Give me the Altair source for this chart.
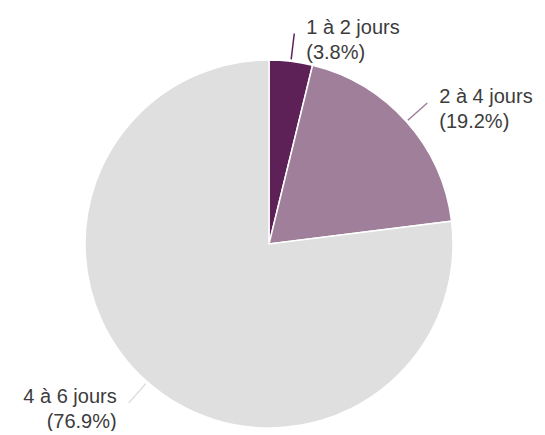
import math
import altair as alt
import pandas as pd

labels = ["1 à 2 jours", "2 à 4 jours", "4 à 6 jours"]
percents = [3.8, 19.2, 76.9]
colors = ["#5e2157", "#a07f9b", "#dfdfdf"]

df = pd.DataFrame({"label": labels, "pct": percents, "order": list(range(len(labels)))})
df["text"] = [f"{l}\n({p}%)" for l, p in zip(labels, percents)]

CX, CY = 261, 236
R_PIE = 184
R_IN, R_OUT = 186, 212

base = alt.Chart(df).transform_joinaggregate(
    total="sum(pct)"
).transform_window(
    cum="sum(pct)", sort=[alt.SortField("order")], frame=[None, 0]
).transform_calculate(
    t1="datum.cum / datum.total",
    t0="(datum.cum - datum.pct) / datum.total",
    mid="(datum.cum - datum.pct / 2) / datum.total",
)

theta_scale = alt.Scale(domain=[0, 1], range=[0, 2 * math.pi])
color_scale = alt.Scale(domain=labels, range=colors)
cx = alt.value(CX)
cy = alt.value(CY)

slices = base.mark_arc(radius=R_PIE, stroke="white", strokeWidth=1.5).encode(
    theta=alt.Theta("t0:Q", scale=theta_scale, stack=False),
    theta2="t1:Q",
    color=alt.Color("label:N", scale=color_scale, legend=None),
    x=cx, y=cy,
)

leaders = base.mark_arc(radius=R_OUT, radius2=R_IN, filled=False, strokeWidth=1.5).encode(
    theta=alt.Theta("mid:Q", scale=theta_scale, stack=False),
    theta2="mid:Q",
    stroke=alt.Stroke("label:N", scale=color_scale, legend=None),
    x=cx, y=cy,
)

text_props = dict(radius=R_OUT, baseline="alphabetic", lineBreak="\n", fontSize=20,
                  font="Liberation Sans", color="#3c3c3c", lineHeight=25)

right_text = base.transform_filter("datum.mid < 0.5").mark_text(
    dx=12, align="left", **text_props
).encode(
    theta=alt.Theta("mid:Q", scale=theta_scale, stack=False),
    text="text:N",
    x=cx, y=cy,
)

left_text = base.transform_filter("datum.mid >= 0.5").mark_text(
    dx=-12, align="right", **text_props
).encode(
    theta=alt.Theta("mid:Q", scale=theta_scale, stack=False),
    text="text:N",
    x=cx, y=cy,
)

chart = alt.layer(slices, leaders, right_text, left_text).properties(
    width=529, height=423,
    autosize=alt.AutoSizeParams(type="none"),
    padding=0,
    background="white",
).configure_view(stroke=None)

chart.save("out.html", embed_options={"renderer": "svg", "actions": False})
